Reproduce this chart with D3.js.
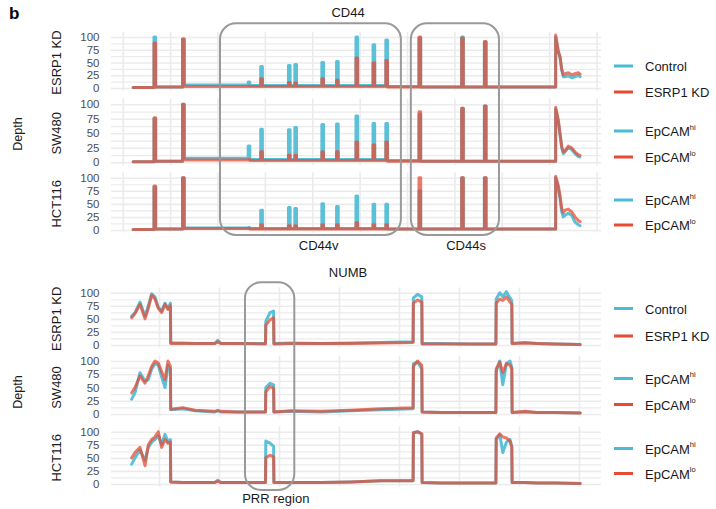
<!DOCTYPE html>
<html><head><meta charset="utf-8">
<script src="https://cdn.jsdelivr.net/npm/d3@7"></script>
<style>
body{margin:0;background:#fff}
svg{display:block;font-family:"Liberation Sans",Arial,sans-serif}
</style>
</head><body>
<svg id="c" width="716" height="509"></svg>
<script>
// ---------------- DATA ----------------
const rowNames = ["ESRP1 KD", "SW480", "HCT116"];
const legendLabels = [["Control", "ESRP1 KD"], ["EpCAM|hi", "EpCAM|lo"], ["EpCAM|hi", "EpCAM|lo"]];
const yTicks = [0, 25, 50, 75, 100];
const yMinorTicks = [12.5, 37.5, 62.5, 87.5];
const cd44XTicks = [0, 10, 20, 30, 40, 50, 60, 70, 80, 90, 100];
const numbXTicks = [0, 10, 20, 30, 40, 50, 60, 70];

// CD44: exon centres (position units), exon width, start and 3' tail positions
const cd44Start = 2.2;
const cd44Exons = [6.78, 12.8, 26.65, 29.3, 35.15, 36.5, 42.2, 45.3, 49.4, 53.0, 55.7, 62.7, 71.7, 76.5];
const cd44ExonWidth = 0.35;
const cd44Tail = [91.36, 91.92, 92.28, 92.63, 92.98, 93.33, 94.03, 94.74, 95.44, 96.14, 96.5];

// per series: exon peak depth, baseline depth in each gap (before exon i), tail depths
const cd44EsrpControlExon = [100, 96, 12, 42, 44, 46, 50, 52, 100, 85, 94, 98, 100, 90];
const cd44EsrpControlBase = [1, 2, 6, 5, 5, 5, 5, 5, 5, 5, 5, 3, 2, 2, 2];
const cd44EsrpControlTail = [100, 70, 60, 35, 22, 22, 24, 20, 22, 25, 22];
const cd44EsrpKdExon = [88, 96, 4, 18, 11, 10, 18, 15, 59, 49, 54, 100, 98, 91];
const cd44EsrpKdBase = [1, 2, 3, 3, 3, 3, 3, 3, 3, 3, 3, 2, 2, 2, 2];
const cd44EsrpKdTail = [104, 72, 62, 38, 26, 28, 30, 26, 28, 30, 27];
const cd44SwHiExon = [75, 100, 28, 57, 56, 60, 65, 66, 80, 67, 67, 83, 93, 97];
const cd44SwHiBase = [1, 2, 7, 5, 5, 5, 5, 5, 5, 5, 5, 3, 2, 2, 2];
const cd44SwHiTail = [92, 70, 48, 25, 15, 18, 25, 22, 15, 10, 9];
const cd44SwLoExon = [77, 100, 5, 18, 12, 12, 18, 18, 35, 30, 35, 87, 93, 97];
const cd44SwLoBase = [1, 2, 4, 3, 3, 3, 3, 3, 3, 3, 3, 2, 2, 2, 2];
const cd44SwLoTail = [95, 73, 50, 28, 18, 20, 28, 25, 18, 13, 12];
const cd44HctHiExon = [82, 100, 5, 38, 43, 41, 50, 45, 65, 49, 49, 75, 100, 100];
const cd44HctHiBase = [1, 2, 4, 3, 3, 3, 3, 3, 3, 3, 3, 2, 2, 2, 2];
const cd44HctHiTail = [100, 80, 60, 35, 25, 28, 32, 28, 15, 10, 8];
const cd44HctLoExon = [84, 100, 3, 10, 8, 8, 10, 10, 14, 10, 10, 100, 100, 100];
const cd44HctLoBase = [1, 2, 3, 2, 2, 2, 2, 2, 2, 2, 2, 2, 2, 2, 2];
const cd44HctLoTail = [103, 85, 66, 42, 33, 38, 40, 35, 25, 18, 16];

// NUMB: shared positions, depth per series
const numbPos = [-4.56, -4.0, -3.17, -2.33, -1.78, -1.22, -0.67, -0.11, 0.44, 1.0, 1.5, 1.9,
  1.95, 4, 6, 9.3, 9.8, 10.3, 13, 17.75,
  17.8, 18.5, 19.1, 19.15,
  22, 27, 32, 37, 42.35,
  42.4, 43.1, 43.8, 43.85,
  47, 52, 56.15,
  56.2, 56.8, 57.3, 57.9, 58.5, 58.8, 58.85,
  61, 63, 66, 70.2];
const numbEsrpControl = [55, 62, 82, 55, 75, 98, 92, 72, 65, 80, 70, 80,
  4, 4, 3, 3, 9, 3, 3, 3,  45, 62, 65, 3,  4, 3, 4, 5, 6,  90, 97, 92, 3,  3, 2, 2,
  88, 100, 92, 102, 90, 85, 3,  5, 3, 2, 1];
const numbEsrpKd = [52, 60, 78, 50, 70, 95, 88, 70, 62, 78, 68, 75,
  3, 3, 3, 3, 6, 3, 3, 2,  38, 48, 52, 2,  3, 3, 3, 4, 5,  80, 86, 82, 2,  2, 2, 2,
  80, 88, 85, 92, 82, 78, 3,  4, 3, 2, 1];
const numbSwHi = [28, 40, 78, 62, 65, 85, 95, 92, 70, 50, 92, 85,
  8, 10, 6, 4, 6, 4, 4, 4,  50, 58, 55, 4,  5, 4, 6, 8, 10,  95, 98, 85, 4,  3, 3, 3,
  80, 100, 55, 95, 100, 88, 3,  4, 3, 3, 2];
const numbSwLo = [40, 50, 72, 58, 72, 90, 100, 96, 80, 65, 100, 90,
  9, 12, 7, 5, 7, 5, 4, 4,  42, 52, 48, 4,  6, 5, 7, 10, 12,  90, 100, 92, 4,  3, 3, 3,
  85, 98, 78, 95, 92, 85, 3,  5, 3, 3, 2];
const numbHctHi = [38, 50, 65, 45, 70, 80, 85, 92, 75, 95, 80, 85,
  4, 3, 3, 3, 7, 3, 3, 3,  82, 78, 72, 3,  3, 3, 4, 6, 6,  98, 100, 95, 3,  2, 2, 2,
  85, 94, 60, 80, 85, 72, 3,  3, 2, 2, 1];
const numbHctLo = [50, 60, 70, 35, 75, 85, 90, 100, 70, 85, 78, 80,
  4, 3, 3, 3, 5, 3, 3, 3,  50, 55, 52, 3,  3, 3, 4, 6, 6,  98, 100, 96, 3,  2, 2, 2,
  88, 96, 90, 88, 82, 70, 3,  3, 2, 2, 1];

// highlighted regions (position units) and their labels
const cd44Regions = [{name: "CD44v", from: 20.53, to: 58.7, label: 41.36}, {name: "CD44s", from: 60.8, to: 79.4, label: 72.46}];
const numbRegions = [{name: "PRR region", from: 14.33, to: 22.55, label: 19.47}];

// ---------------- BUILD ----------------
function cd44Points(exon, base, tail) {
  const pts = [[cd44Start, base[0]]];
  const hw = cd44ExonWidth / 2;
  cd44Exons.forEach((c, i) => {
    pts.push([c - hw, base[i]], [c - hw, exon[i]], [c + hw, exon[i]], [c + hw, base[i + 1]]);
  });
  pts.push([cd44Tail[0], base[cd44Exons.length]]);
  cd44Tail.forEach((p, j) => pts.push([p, tail[j]]));
  return pts;
}
const zipPts = vals => numbPos.map((p, i) => [p, vals[i]]);

const cd44Series = [
  [cd44Points(cd44EsrpControlExon, cd44EsrpControlBase, cd44EsrpControlTail), cd44Points(cd44EsrpKdExon, cd44EsrpKdBase, cd44EsrpKdTail)],
  [cd44Points(cd44SwHiExon, cd44SwHiBase, cd44SwHiTail), cd44Points(cd44SwLoExon, cd44SwLoBase, cd44SwLoTail)],
  [cd44Points(cd44HctHiExon, cd44HctHiBase, cd44HctHiTail), cd44Points(cd44HctLoExon, cd44HctLoBase, cd44HctLoTail)]
];
const numbSeries = [
  [zipPts(numbEsrpControl), zipPts(numbEsrpKd)],
  [zipPts(numbSwHi), zipPts(numbSwLo)],
  [zipPts(numbHctHi), zipPts(numbHctLo)]
];

// ---------------- LAYOUT ----------------
const BLUE = "#4DBBD5", RED = "#E64B35", GRID = "#EBEBEB";
const genes = [
  {title: "CD44", titleY: 12, xDomain: [0, 100], xRange: [122.7, 596.6], xTicks: cd44XTicks, panelX: [111, 601],
   rows: [{y0: 88, y100: 37}, {y0: 162.3, y100: 104.3}, {y0: 230, y100: 177.7}],
   legendY: [[66, 92], [131, 157], [200, 225]], series: cd44Series, regions: cd44Regions,
   boxY: [23.3, 235], labelY: 245, depthY: 134},
  {title: "NUMB", titleY: 272, xDomain: [0, 70], xRange: [159, 579], xTicks: numbXTicks, panelX: [111, 601],
   rows: [{y0: 345, y100: 292.7}, {y0: 414, y100: 361}, {y0: 484, y100: 431.7}],
   legendY: [[308.5, 336], [378.5, 404.5], [448.5, 473.5]], series: numbSeries, regions: numbRegions,
   boxY: [282.3, 490], labelY: 498, depthY: 392}
];

const svg = d3.select("#c");
svg.append("text").attr("x", 9).attr("y", 19).attr("font-size", 17).attr("font-weight", "bold").attr("fill", "#000").text("b");

genes.forEach(gene => {
  const x = d3.scaleLinear().domain(gene.xDomain).range(gene.xRange);
  const pw = gene.panelX[1] - gene.panelX[0];
  svg.append("text").attr("x", 348).attr("y", gene.titleY).attr("dominant-baseline", "central")
    .attr("text-anchor", "middle").attr("font-size", 13).attr("fill", "#1A1A1A").text(gene.title);
  svg.append("text").attr("transform", `translate(18,${gene.depthY}) rotate(-90)`).attr("dominant-baseline", "central")
    .attr("text-anchor", "middle").attr("font-size", 12.5).attr("fill", "#1A1A1A").text("Depth");

  gene.rows.forEach((r, i) => {
    const y = d3.scaleLinear().domain([0, 100]).range([r.y0, r.y100]);
    const top = y(110), bot = y(-5);
    const g = svg.append("g");
    // minor horizontal grid
    g.append("g").attr("transform", `translate(${gene.panelX[0]},0)`)
      .call(d3.axisLeft(y).tickValues(yMinorTicks).tickSize(-pw).tickFormat(""))
      .call(a => { a.select(".domain").remove(); a.selectAll("line").attr("stroke", GRID).attr("stroke-width", 1.2); });
    // major horizontal grid
    g.append("g").attr("transform", `translate(${gene.panelX[0]},0)`)
      .call(d3.axisLeft(y).tickValues(yTicks).tickSize(-pw).tickFormat(""))
      .call(a => { a.select(".domain").remove(); a.selectAll("line").attr("stroke", GRID).attr("stroke-width", 1.6); });
    // vertical grid
    g.append("g").attr("transform", `translate(0,${bot})`)
      .call(d3.axisBottom(x).tickValues(gene.xTicks).tickSize(-(bot - top)).tickFormat(""))
      .call(a => { a.select(".domain").remove(); a.selectAll("line").attr("stroke", GRID).attr("stroke-width", 1.6); });
    // y labels
    g.append("g").attr("transform", `translate(${gene.panelX[0] - 11.5},0)`)
      .call(d3.axisLeft(y).tickValues(yTicks).tickSize(0).tickPadding(0))
      .call(a => { a.select(".domain").remove();
        a.selectAll("text").attr("font-size", 11.5).attr("fill", "#4D4D4D").attr("font-family", "Liberation Sans, Arial, sans-serif"); });
    // strip label
    g.append("text").attr("transform", `translate(56,${(r.y0 + r.y100) / 2}) rotate(-90)`)
      .attr("dominant-baseline", "central").attr("text-anchor", "middle").attr("font-size", 13).attr("fill", "#1A1A1A").text(rowNames[i]);

    const line = d3.line().x(d => x(d[0])).y(d => y(d[1]));
    const [sb, sr] = gene.series[i];
    g.append("path").attr("d", line(sb)).attr("fill", "none").attr("stroke", BLUE).attr("stroke-opacity", 0.92)
      .attr("stroke-width", 3).attr("stroke-linejoin", "round").attr("stroke-linecap", "round");
    g.append("path").attr("d", line(sr)).attr("fill", "none").attr("stroke", RED).attr("stroke-opacity", 0.74)
      .attr("stroke-width", 3).attr("stroke-linejoin", "round").attr("stroke-linecap", "round");

    // legend
    const labs = legendLabels[i];
    [BLUE, RED].forEach((col, k) => {
      const ly = gene.legendY[i][k];
      svg.append("line").attr("x1", 614).attr("x2", 633).attr("y1", ly).attr("y2", ly).attr("stroke", col).attr("stroke-width", 3);
      const parts = labs[k].split("|");
      const t = svg.append("text").attr("x", 645).attr("y", ly).attr("dominant-baseline", "central")
        .attr("font-size", 13).attr("fill", "#1A1A1A");
      t.append("tspan").text(parts[0]);
      if (parts[1]) t.append("tspan").attr("dy", -4.5).attr("font-size", 7.5).text(parts[1]);
    });
  });

  // highlighted regions
  gene.regions.forEach(reg => {
    svg.append("rect").attr("x", x(reg.from)).attr("y", gene.boxY[0]).attr("width", x(reg.to) - x(reg.from))
      .attr("height", gene.boxY[1] - gene.boxY[0]).attr("rx", 16).attr("fill", "none").attr("stroke", "#999999").attr("stroke-width", 2);
    svg.append("text").attr("x", x(reg.label)).attr("y", gene.labelY).attr("dominant-baseline", "central")
      .attr("text-anchor", "middle").attr("font-size", 13).attr("fill", "#1A1A1A").text(reg.name);
  });
});
</script>
</body></html>
